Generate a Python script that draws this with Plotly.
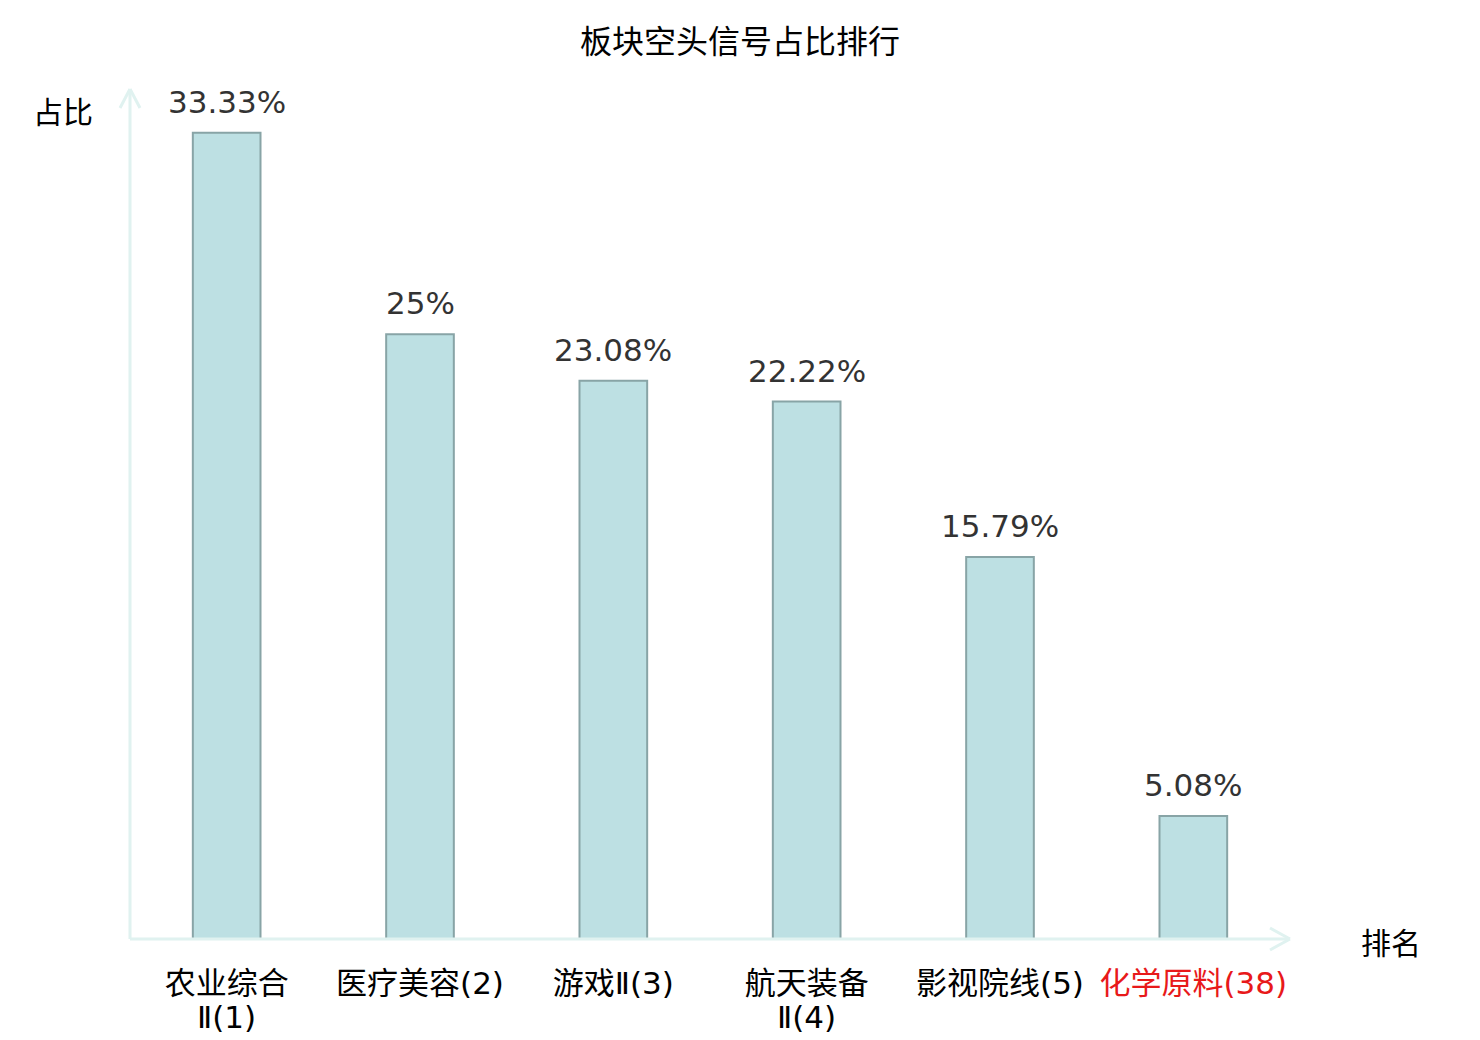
import plotly.graph_objects as go

# category names (rank shown in brackets) and share of short signals, %
categories = ['农业综合<br>Ⅱ(1)', '医疗美容(2)', '游戏Ⅱ(3)', '航天装备<br>Ⅱ(4)', '影视院线(5)', '化学原料(38)']
values = [33.33, 25, 23.08, 22.22, 15.79, 5.08]
labels = ['33.33%', '25%', '23.08%', '22.22%', '15.79%', '5.08%']
highlight = '化学原料(38)'

W, H = 1480, 1040
OFF = 8  # page body margin
# wanted plot box on screen: x 130..1290, y 90..939
L, T = 130 - OFF, 90 - OFF
R, B = W - (1290 - OFF), H - (939 - OFF)
axis_col = '#e0f2f0'
cjk = 'Noto Sans CJK SC'
tickfam = 'DejaVu Sans, Noto Sans CJK SC'


def px(x, y):
    # screen pixel -> paper coords
    x, y = x - OFF, y - OFF
    return (x - L) / (W - L - R), (H - B - y) / (H - T - B)


def first_line(c):
    t = c.split('<br>')[0]
    return f'<span style="color:#e8191a">{t}</span>' if c == highlight else t


fig = go.Figure()
fig.add_trace(go.Bar(
    x=categories, y=values,
    marker=dict(color='#bde0e3', line=dict(color='#88a4a6', width=2)),
    width=0.35, hoverinfo='x+y',
))

annotations = []
# value labels above bars
for c, v, t in zip(categories, values, labels):
    annotations.append(dict(x=c, y=v, text=t, showarrow=False, xanchor='center', yanchor='bottom',
                            yshift=11, font=dict(size=31, color='#333333', family='DejaVu Sans')))

# wrapped second line of long tick labels (tighter line spacing than plotly's <br>)
y2 = px(0, 1017)[1]
for c in categories:
    parts = c.split('<br>')
    if len(parts) > 1:
        annotations.append(dict(x=c, y=y2, yref='paper', text=parts[1], showarrow=False,
                                xanchor='center', yanchor='middle',
                                font=dict(size=31, color='#000', family=tickfam)))

shapes = []
def line(x0, y0, x1, y1):
    a, b = px(x0, y0)
    c, d = px(x1, y1)
    shapes.append(dict(type='line', xref='paper', yref='paper', x0=a, y0=b, x1=c, y1=d,
                       line=dict(color=axis_col, width=3)))

# axes with open arrow heads
line(130, 939, 1290, 939)
line(1290, 939, 1270, 928)
line(1290, 939, 1270, 950)
line(130, 939, 130, 89)
line(130, 89, 120, 108)
line(130, 89, 140, 108)

ax, ay = px(63, 110)
annotations.append(dict(text='占比', x=ax, y=ay, xref='paper', yref='paper', showarrow=False,
                        xanchor='center', yanchor='middle',
                        font=dict(size=30, color='#000', family=cjk)))
ax, ay = px(1391, 941)
annotations.append(dict(text='排名', x=ax, y=ay, xref='paper', yref='paper', showarrow=False,
                        xanchor='center', yanchor='middle',
                        font=dict(size=30, color='#000', family=cjk)))

fig.update_layout(
    width=W, height=H,
    margin=dict(l=L, r=R, t=T, b=B, autoexpand=False),
    paper_bgcolor='white', plot_bgcolor='white',
    title=dict(text='板块空头信号占比排行', x=px(740, 0)[0], xanchor='center',
               y=1 - (42 - OFF) / H, yanchor='middle', xref='paper',
               font=dict(size=32, color='#000', family=cjk)),
    xaxis=dict(tickvals=categories, ticktext=[first_line(c) for c in categories],
               showline=False, showgrid=False, zeroline=False,
               ticks='outside', ticklen=17, tickcolor='rgba(0,0,0,0)', automargin=False,
               tickfont=dict(size=31, color='#000', family=tickfam), tickangle=0),
    yaxis=dict(range=[0, 35.1], visible=False, automargin=False),
    shapes=shapes, annotations=annotations,
    showlegend=False, bargap=0.65,
)

fig.write_html('out.html')
